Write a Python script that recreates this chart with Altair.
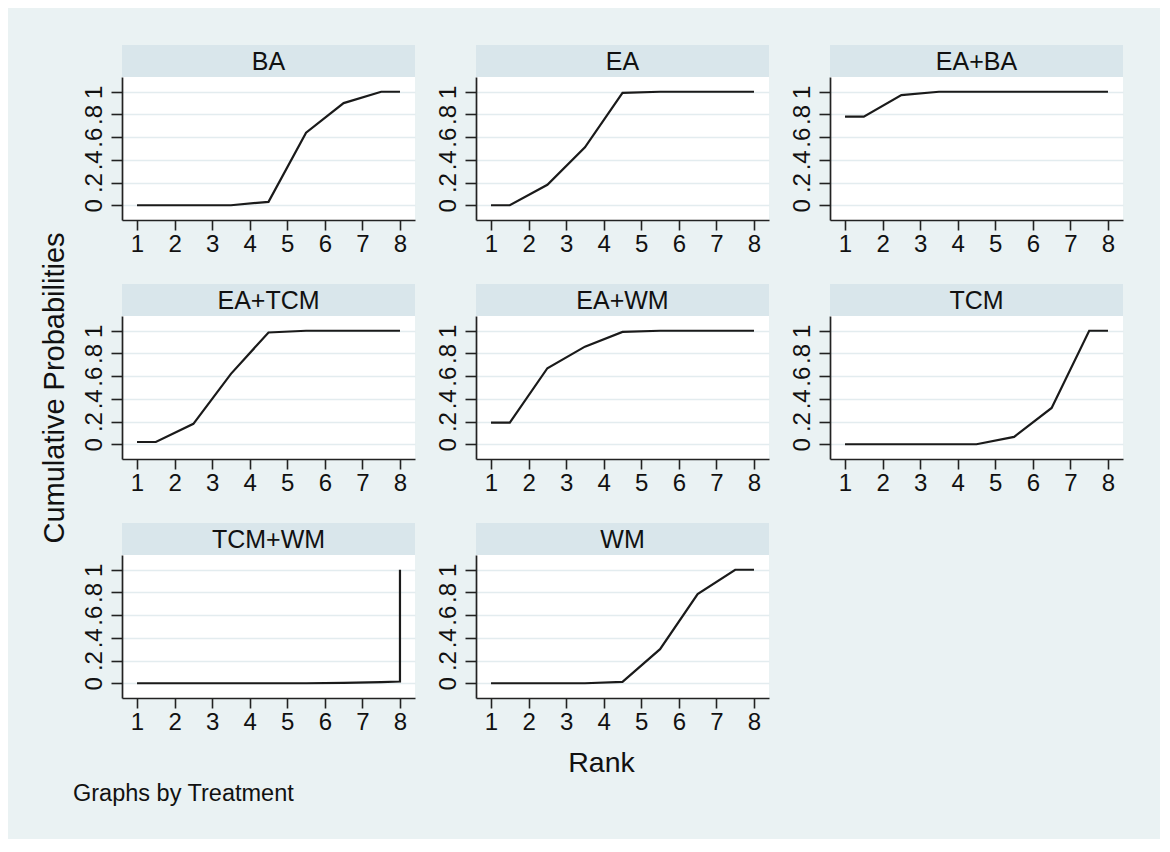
import altair as alt
import pandas as pd

# ---- data ----
treatments = ["BA", "EA", "EA+BA", "EA+TCM", "EA+WM", "TCM", "TCM+WM", "WM"]
rank_x = [1, 1.5, 2.5, 3.5, 4.5, 5.5, 6.5, 7.5, 8, 8]

ba = [0.0, 0.0, 0.0, 0.0, 0.03, 0.64, 0.90, 1.0, 1.0, 1.0]
ea = [0.0, 0.0, 0.18, 0.51, 0.99, 1.0, 1.0, 1.0, 1.0, 1.0]
ea_ba = [0.78, 0.78, 0.97, 1.0, 1.0, 1.0, 1.0, 1.0, 1.0, 1.0]
ea_tcm = [0.02, 0.02, 0.18, 0.62, 0.985, 1.0, 1.0, 1.0, 1.0, 1.0]
ea_wm = [0.19, 0.19, 0.67, 0.86, 0.99, 1.0, 1.0, 1.0, 1.0, 1.0]
tcm = [0.0, 0.0, 0.0, 0.0, 0.0, 0.065, 0.32, 1.0, 1.0, 1.0]
tcm_wm = [0.0, 0.0, 0.0, 0.0, 0.0, 0.0, 0.003, 0.01, 0.015, 1.0]
wm = [0.0, 0.0, 0.0, 0.0, 0.012, 0.30, 0.785, 1.0, 1.0, 1.0]

series = {
    "BA": ba, "EA": ea, "EA+BA": ea_ba, "EA+TCM": ea_tcm,
    "EA+WM": ea_wm, "TCM": tcm, "TCM+WM": tcm_wm, "WM": wm,
}

x_ticks = [1, 2, 3, 4, 5, 6, 7, 8]
y_ticks = [0, 0.2, 0.4, 0.6, 0.8, 1]

# ---- styling ----
PW, PH = 293, 143
STRIP_H = 32
FONT = "Liberation Sans"
BG = "#EAF2F3"
STRIP = "#D9E6EB"
INK = "#111111"
AXC = "#222222"

panels = []
for t in treatments:
    df = pd.DataFrame({"x": rank_x, "y": series[t], "i": list(range(len(rank_x)))})
    sdf = pd.DataFrame({"Treatment": [t]})

    x_axis = alt.Axis(
        values=x_ticks, format="d", grid=False,
        labelFont=FONT, labelFontSize=24, labelColor=INK, labelPadding=2,
        labelFlush=False, labelOverlap=False,
        tickSize=10, tickColor=AXC, tickWidth=1.6,
        domainColor=AXC, domainWidth=1.7,
        title="Rank" if t == "WM" else None,
        titleFont=FONT, titleFontSize=28.5, titleFontWeight="normal",
        titleColor=INK, titlePadding=14, titleX=125,
    )
    y_axis = alt.Axis(
        values=y_ticks,
        labelExpr="datum.value > 0.001 && datum.value < 0.999 ? substring(format(datum.value, '.1f'), 1) : format(datum.value, 'd')",
        labelAngle=270, labelAlign="center", labelBaseline="bottom",
        labelFont=FONT, labelFontSize=24, labelColor=INK, labelPadding=5,
        labelFlush=False, labelOverlap=False,
        tickSize=11, tickColor=AXC, tickWidth=1.6,
        domainColor=AXC, domainWidth=1.7,
        grid=True, gridColor="#E3ECEF", gridWidth=1.5,
        title="Cumulative Probabilities" if t == "EA+TCM" else None,
        titleFont=FONT, titleFontSize=29, titleFontWeight="normal",
        titleColor=INK, titlePadding=13,
    )

    line = alt.Chart(df).mark_line(color="#1a1a1a", strokeWidth=2.2).encode(
        x=alt.X("x:Q", scale=alt.Scale(domain=[0.6, 8.4], nice=False, zero=False), axis=x_axis),
        y=alt.Y("y:Q", scale=alt.Scale(domain=[-0.13, 1.13], nice=False, zero=False), axis=y_axis),
        order="i:Q",
    )
    strip = alt.Chart(sdf).mark_rect(color=STRIP).encode(
        x=alt.value(0), x2=alt.value(PW), y=alt.value(-STRIP_H), y2=alt.value(0)
    )
    label = alt.Chart(sdf).mark_text(
        font=FONT, fontSize=25, color=INK, align="center", baseline="middle"
    ).encode(x=alt.value(PW / 2), y=alt.value(-STRIP_H / 2 + 1), text="Treatment:N")

    panels.append(alt.layer(strip, label, line).properties(width=PW, height=PH))

chart = alt.concat(
    *panels, columns=3, spacing={"row": 96, "column": 61}, bounds="flush"
).properties(
    title=alt.TitleParams(
        "Graphs by Treatment", orient="bottom", anchor="start",
        font=FONT, fontSize=23.5, fontWeight="normal", color=INK,
        offset=5, dx=33,
    ),
    background=BG,
    padding={"left": 31, "top": 37, "right": 37, "bottom": 34},
).configure_view(fill="white", strokeWidth=0)

chart.save("out.html", embed_options={"renderer": "svg", "actions": False})
